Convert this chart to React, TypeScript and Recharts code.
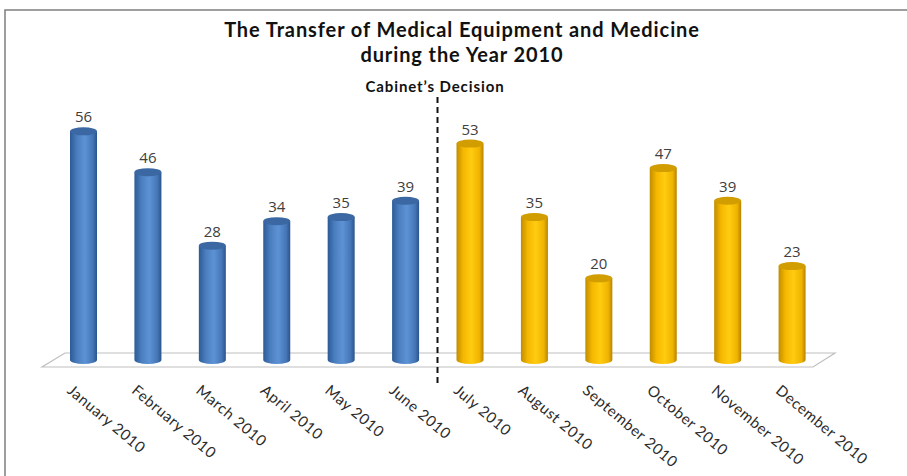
import { BarChart, Bar, XAxis, YAxis, Cell, LabelList } from "recharts";

const months = [
  "January 2010", "February 2010", "March 2010", "April 2010", "May 2010", "June 2010",
  "July 2010", "August 2010", "September 2010", "October 2010", "November 2010", "December 2010"
];
const transfers = [56, 46, 28, 34, 35, 39, 53, 35, 20, 47, 39, 23];
const decisionMonth = "July 2010";

const data = months.map((m, i) => ({ month: m, value: transfers[i] }));
const decisionIdx = months.indexOf(decisionMonth);

const W = 907;
const H = 476;
const M = { top: 115, right: 83, bottom: 16, left: 51 };
const AXIS_H = 100;
const baseY = H - M.bottom - AXIS_H;
const plotR = W - M.right;
const band = (plotR - M.left) / months.length;
const decisionX = M.left + decisionIdx * band;

function Cylinder(props: any) {
  const { x, y, width, height, index } = props;
  if (!height || height <= 0) return null;
  const after = index >= decisionIdx;
  const rx = width / 2;
  const ry = 4;
  const cx = x + rx;
  const body = `M${x},${y} L${x},${y + height} A${rx},${ry} 0 0 0 ${x + width},${y + height} L${x + width},${y} Z`;
  return (
    <g>
      <path d={body} fill={after ? "url(#gYel)" : "url(#gBlue)"} />
      <ellipse cx={cx} cy={y} rx={rx} ry={ry} fill={after ? "#d29d00" : "#3b68a3"} />
    </g>
  );
}

function MonthTick(props: any) {
  const { x, y, payload } = props;
  return (
    <text
      transform={`translate(${x - 17},${y + 32}) rotate(40)`}
      textAnchor="start"
      fontFamily="Lato, 'Open Sans', sans-serif"
      fontSize={15}
      letterSpacing={0.6}
      fill="#2b2b2b"
    >
      {payload.value}
    </text>
  );
}

export default function App() {
  return (
    <div style={{ position: "absolute", left: 0, top: 0, width: W, height: H, background: "#fff", overflow: "hidden" }}>
      <svg width={W} height={H} style={{ position: "absolute", left: 0, top: 0 }}>
        <rect x={5} y={10} width={W + 20} height={H + 20} fill="#fff" stroke="#7f7f7f" strokeWidth={1.5} />
        <polygon
          points={`${M.left + 14},${baseY - 7} ${plotR + 11},${baseY - 7} ${plotR - 11},${baseY + 7} ${M.left - 9},${baseY + 7}`}
          fill="#fff"
          stroke="#bfbfbf"
          strokeWidth={1.2}
        />
        <line
          x1={decisionX}
          x2={decisionX}
          y1={97}
          y2={baseY + 25}
          stroke="#111"
          strokeWidth={2}
          strokeDasharray="6 4"
        />
      </svg>
      <div
        style={{
          position: "absolute",
          left: 0,
          top: 17,
          width: 924,
          textAlign: "center",
          fontFamily: "Lato, 'Open Sans', sans-serif",
          fontWeight: 700,
          fontSize: 20,
          letterSpacing: 0.9,
          lineHeight: "25px",
          color: "#111",
        }}
      >
        The Transfer of Medical Equipment and Medicine
        <br />
        during the Year 2010
      </div>
      <div
        style={{
          position: "absolute",
          left: 285,
          top: 77,
          width: 300,
          textAlign: "center",
          fontFamily: "Lato, 'Open Sans', sans-serif",
          fontWeight: 700,
          fontSize: 15,
          letterSpacing: 0.9,
          color: "#111",
        }}
      >
        Cabinet’s Decision
      </div>
      <div style={{ position: "absolute", left: 0, top: 0 }}>
        <BarChart width={W} height={H} data={data} margin={M}>
          <defs>
            <linearGradient id="gBlue" x1="0" y1="0" x2="1" y2="0">
              <stop offset="0%" stopColor="#2c5a96" />
              <stop offset="25%" stopColor="#4a7dbd" />
              <stop offset="55%" stopColor="#5d93d6" />
              <stop offset="85%" stopColor="#4576b6" />
              <stop offset="100%" stopColor="#2a548c" />
            </linearGradient>
            <linearGradient id="gYel" x1="0" y1="0" x2="1" y2="0">
              <stop offset="0%" stopColor="#c08d00" />
              <stop offset="25%" stopColor="#f5b700" />
              <stop offset="55%" stopColor="#ffcc10" />
              <stop offset="85%" stopColor="#f0b300" />
              <stop offset="100%" stopColor="#b58400" />
            </linearGradient>
          </defs>
          <XAxis
            dataKey="month"
            height={AXIS_H}
            axisLine={false}
            tickLine={false}
            tickSize={0}
            tickMargin={0}
            interval={0}
            tick={<MonthTick />}
          />
          <YAxis hide domain={[0, 60]} />
          <Bar dataKey="value" barSize={27} isAnimationActive={false} shape={<Cylinder />}>
            {data.map((d, i) => (
              <Cell key={d.month} fill={i >= decisionIdx ? "#ffc000" : "#4f81bd"} />
            ))}
            <LabelList
              dataKey="value"
              position="top"
              offset={9}
              fill="#404040"
              fontSize={15}
              fontFamily="'Open Sans', sans-serif"
            />
          </Bar>
        </BarChart>
      </div>
    </div>
  );
}
